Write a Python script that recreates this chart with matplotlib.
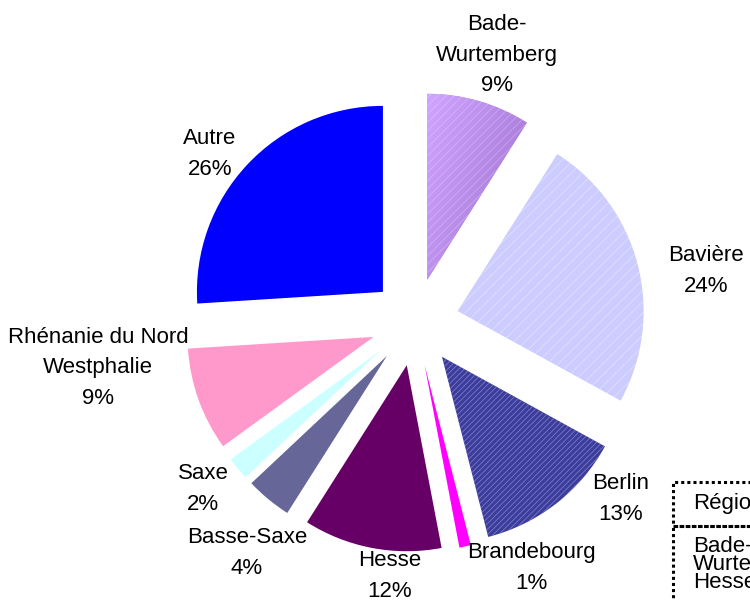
import numpy as np
import matplotlib
matplotlib.use("Agg")
import matplotlib.pyplot as plt
import matplotlib.patches as mpatches
from matplotlib.colors import LinearSegmentedColormap

# ---------------- data ----------------
regions = ["Bade-\nWurtemberg", "Bavière", "Berlin", "Brandebourg", "Hesse",
           "Basse-Saxe", "Saxe", "Rhénanie du Nord\nWestphalie", "Autre"]
shares = [9, 24, 13, 1, 12, 4, 2, 9, 26]
table_header = "Région"
table_rows = ["Bade-\nWurtemberg", "Hesse"]

# ---------------- style ----------------
face_colors = ["#b78ae8", "#ccccff", "#3c3c9a", "#ff00ff", "#660066",
               "#666699", "#ccffff", "#ff99cc", "#0000ff"]
hatch_patterns = ["////", "///", "//////", None, None, None, None, None, None]
hatch_colors = [(1, 1, 1, 0.30), (1, 1, 1, 0.45), (0.55, 0.55, 0.85, 0.9),
                None, None, None, None, None, None]
# label block centres (pixels from top-left)
label_pos = [(497, 55), (706, 271), (621, 499), (531, 568), (390, 576),
             (247, 553), (203, 489), (98, 368), (210, 154)]

W, H = 750, 600
plt.rcParams["font.family"] = ["Liberation Sans", "DejaVu Sans"]
plt.rcParams["hatch.linewidth"] = 0.5

fig = plt.figure(figsize=(W / 100, H / 100), dpi=100)
ax = fig.add_axes([0, 0, 1, 1])

cx, cy, R, EXPL = 415, H - 322, 186, 44
wedges, _ = ax.pie(shares, startangle=90, counterclock=False,
                   center=(cx, cy), radius=R,
                   explode=[EXPL] * len(shares),
                   colors=face_colors,
                   wedgeprops=dict(linewidth=0))
ax.set_xlim(0, W)
ax.set_ylim(0, H)
ax.set_aspect("auto")
ax.axis("off")

# gradient on the first wedge (Bade-Wurtemberg)
w0 = wedges[0]
wx, wy = w0.center
grad_cmap = LinearSegmentedColormap.from_list("bw", ["#d0a4ff", "#9a6ccc"])
gx, gy = np.meshgrid(np.linspace(0, 1, 200), np.linspace(1, 0, 200))
gval = 0.65 * gx + 0.35 * (1 - gy)
img = ax.imshow(gval, cmap=grad_cmap, extent=[wx, wx + 0.6 * R, wy, wy + R],
                origin="upper", zorder=w0.get_zorder() + 0.1, aspect="auto")
img.set_clip_path(w0)
ax.set_xlim(0, W)
ax.set_ylim(0, H)

# hatching overlays
for w, hp, hc in zip(wedges, hatch_patterns, hatch_colors):
    if hp is None:
        continue
    ov = mpatches.Wedge(w.center, w.r, w.theta1, w.theta2, fill=False,
                        hatch=hp, edgecolor=hc, linewidth=0,
                        zorder=w.get_zorder() + 0.2)
    ax.add_patch(ov)

# labels
for name, val, (lx, ly) in zip(regions, shares, label_pos):
    ax.text(lx, H - ly, f"{name}\n{val:.0f}%", ha="center", va="center",
            fontsize=16, linespacing=1.62, color="black")

# partial data table (cut by the figure edge)
dot = dict(fill=False, edgecolor="black", linewidth=2.2,
           linestyle=(0, (1, 1)), clip_on=False)
ax.add_patch(mpatches.Rectangle((673, H - 526), 120, 44, **dot))
ax.add_patch(mpatches.Rectangle((673, H - 640), 120, 114, **dot))
ax.text(693, H - 503, table_header, ha="left", va="center", fontsize=16,
        clip_on=False)
ax.text(693, H - 536, "\n".join(table_rows), ha="left", va="top",
        fontsize=16, linespacing=0.82, clip_on=False)

fig.savefig("out.png", dpi=100)
